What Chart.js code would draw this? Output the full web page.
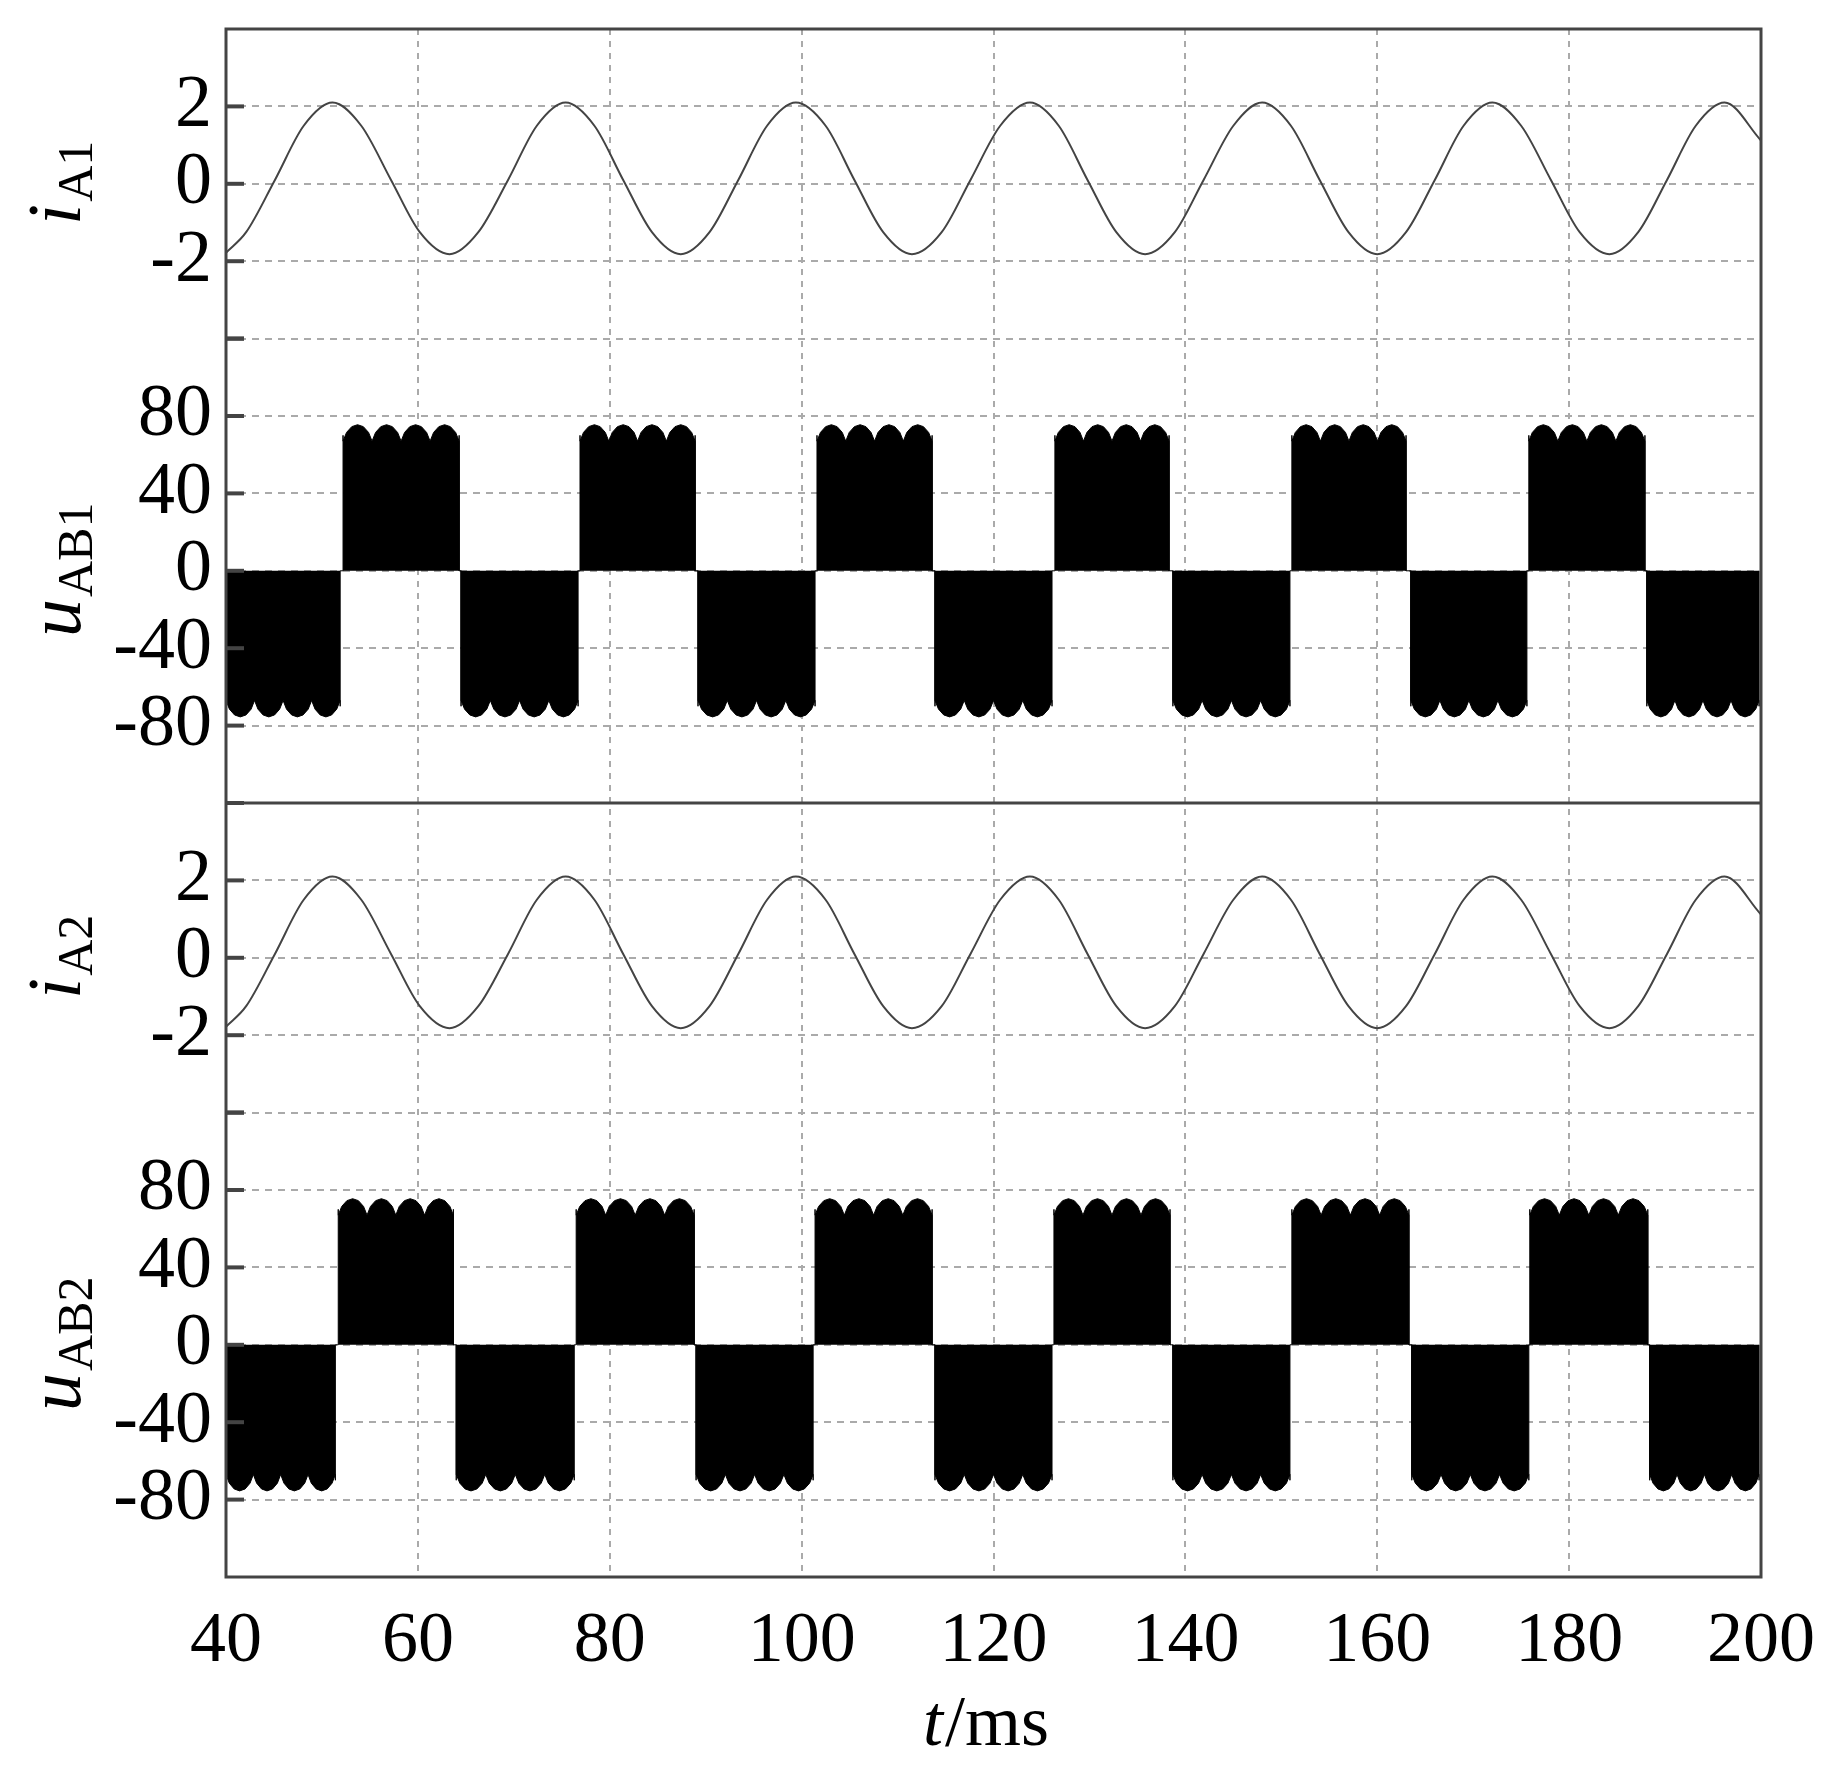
<!DOCTYPE html>
<html>
<head>
<meta charset="utf-8">
<script src="https://cdn.jsdelivr.net/npm/chart.js@4/dist/chart.umd.min.js"></script>
<style>
  html, body { margin: 0; padding: 0; background: #fff; }
  #wrap { width: 1837px; height: 1771px; }
</style>
</head>
<body>
<div id="wrap"><canvas id="chart" width="1837" height="1771"></canvas></div>
<script>
// current iA1 / iA2 (t in ms, value in A)
const iA1_t = [40, 42.1, 45.1, 48.1, 51.1, 54.1, 57.2, 60.2, 63.3, 66.3, 69.4, 72.4, 75.4, 78.4, 81.4, 84.4, 87.4, 90.4, 93.4, 96.4, 99.4, 102.5, 105.5, 108.5, 111.5, 114.6, 117.6, 120.7, 123.8, 126.8, 129.8, 132.8, 135.8, 138.9, 141.9, 145.0, 148.0, 151.0, 154.0, 157.0, 160.0, 163.0, 166.0, 169.0, 172.0, 175.0, 178.1, 181.1, 184.2, 187.2, 190.2, 193.2, 196.2, 200];
const iA1_v = [-1.78, -1.25, 0.1, 1.5, 2.1, 1.5, 0.1, -1.25, -1.82, -1.25, 0.1, 1.5, 2.1, 1.5, 0.1, -1.25, -1.82, -1.25, 0.1, 1.5, 2.1, 1.5, 0.1, -1.25, -1.82, -1.25, 0.1, 1.5, 2.1, 1.5, 0.1, -1.25, -1.82, -1.25, 0.1, 1.5, 2.1, 1.5, 0.1, -1.25, -1.82, -1.25, 0.1, 1.5, 2.1, 1.5, 0.1, -1.25, -1.82, -1.25, 0.1, 1.5, 2.1, 1.12];
const iA2_t = [40, 42.1, 45.1, 48.1, 51.1, 54.1, 57.2, 60.2, 63.3, 66.3, 69.4, 72.4, 75.4, 78.4, 81.4, 84.4, 87.4, 90.4, 93.4, 96.4, 99.4, 102.5, 105.5, 108.5, 111.5, 114.6, 117.6, 120.7, 123.8, 126.8, 129.8, 132.8, 135.8, 138.9, 141.9, 145.0, 148.0, 151.0, 154.0, 157.0, 160.0, 163.0, 166.0, 169.0, 172.0, 175.0, 178.1, 181.1, 184.2, 187.2, 190.2, 193.2, 196.2, 200];
const iA2_v = [-1.78, -1.25, 0.1, 1.5, 2.1, 1.5, 0.1, -1.25, -1.82, -1.25, 0.1, 1.5, 2.1, 1.5, 0.1, -1.25, -1.82, -1.25, 0.1, 1.5, 2.1, 1.5, 0.1, -1.25, -1.82, -1.25, 0.1, 1.5, 2.1, 1.5, 0.1, -1.25, -1.82, -1.25, 0.1, 1.5, 2.1, 1.5, 0.1, -1.25, -1.82, -1.25, 0.1, 1.5, 2.1, 1.5, 0.1, -1.25, -1.82, -1.25, 0.1, 1.5, 2.1, 1.12];

// voltage blocks [start, end] in ms
const uAB1_pos = [[52.2, 64.3], [76.9, 88.9], [101.6, 113.6], [126.4, 138.3], [151.1, 163.0], [175.8, 187.9]];
const uAB1_neg = [[40.0, 51.9], [64.5, 76.7], [89.2, 101.4], [113.9, 126.1], [138.7, 150.9], [163.5, 175.6], [188.1, 199.8]];
const uAB2_pos = [[51.7, 63.7], [76.5, 88.8], [101.4, 113.6], [126.3, 138.4], [151.1, 163.3], [175.9, 188.2]];
const uAB2_neg = [[40.0, 51.4], [64.0, 76.3], [89.0, 101.2], [113.9, 126.1], [138.7, 150.9], [163.6, 175.8], [188.4, 199.8]];

// ripple on top of each block (4 humps per block)
const humpsPerBlock = 4;
const humpPos = [0, 0.12, 0.3, 0.5, 0.7, 0.88, 1];
const humpVal = [67, 71.5, 74.5, 75.5, 74.5, 71.5, 67];
const edgeVal = 70;

const xTicks = [40, 60, 80, 100, 120, 140, 160, 180, 200];
const iTicks = [2, 0, -2];
const uTicks = [80, 40, 0, -40, -80];

function toPoints(ts, vs) {
  return ts.map((t, i) => ({ x: t, y: vs[i] }));
}

function buildWave(pos, neg) {
  const blocks = pos.map((b) => [b[0], b[1], 1]).concat(neg.map((b) => [b[0], b[1], -1]));
  blocks.sort((a, b) => a[0] - b[0]);
  const pts = [];
  blocks.forEach(([a, b, s]) => {
    pts.push({ x: a, y: 0 });
    pts.push({ x: a, y: s * edgeVal });
    for (let h = 0; h < humpsPerBlock; h++) {
      humpPos.forEach((f, k) => {
        pts.push({ x: a + (b - a) * (h + f) / humpsPerBlock, y: s * humpVal[k] });
      });
    }
    pts.push({ x: b, y: s * edgeVal });
    pts.push({ x: b, y: 0 });
  });
  return pts;
}

const SERIF = "'Liberation Serif', 'DejaVu Serif', serif";
const gridStyle = { color: "#aaa", lineWidth: 2, drawTicks: false };

function yAxis(min, max, step, labels, weight) {
  return {
    type: "linear",
    position: "left",
    stack: "all",
    stackWeight: weight,
    min, max,
    grid: gridStyle,
    border: { display: false, dash: [7, 6] },
    ticks: {
      stepSize: step,
      autoSkip: false,
      color: "#000",
      font: { family: SERIF, size: 74 },
      padding: 14,
      callback: (v) => (labels.includes(v) ? String(v) : ""),
    },
    afterFit: (s) => { s.width = 226; s.paddingTop = 0; s.paddingBottom = 0; },
  };
}

const framePlugin = {
  id: "frame",
  afterDraw(chart) {
    const { ctx, chartArea: a, scales } = chart;
    ctx.save();
    ctx.strokeStyle = "#444";
    ctx.lineWidth = 3;
    ctx.strokeRect(a.left, a.top, a.right - a.left, a.bottom - a.top);
    const ySep = scales.u1.bottom;
    ctx.beginPath();
    ctx.moveTo(a.left, ySep);
    ctx.lineTo(a.right, ySep);
    ctx.stroke();
    // inner tick marks
    ctx.lineWidth = 4;
    ["i1", "u1", "i2", "u2"].forEach((id) => {
      scales[id].ticks.forEach((t) => {
        const y = scales[id].getPixelForValue(t.value);
        if (y <= a.top + 2 || y >= a.bottom - 2) return;
        ctx.beginPath();
        ctx.moveTo(a.left, y);
        ctx.lineTo(a.left + 18, y);
        ctx.stroke();
      });
    });
    // axis titles
    ctx.fillStyle = "#000";
    const titles = [["i1", "i", "A1"], ["u1", "u", "AB1"], ["i2", "i", "A2"], ["u2", "u", "AB2"]];
    titles.forEach(([id, main, sub]) => {
      const s = scales[id];
      const cy = (s.top + s.bottom) / 2;
      ctx.save();
      ctx.translate(80, cy);
      ctx.rotate(-Math.PI / 2);
      ctx.font = "italic 76px " + SERIF;
      const w1 = ctx.measureText(main).width;
      ctx.font = "50px " + SERIF;
      const w2 = ctx.measureText(sub).width;
      const x0 = -(w1 + w2) / 2;
      ctx.textBaseline = "alphabetic";
      ctx.font = "italic 76px " + SERIF;
      ctx.fillText(main, x0, 0);
      ctx.font = "50px " + SERIF;
      ctx.fillText(sub, x0 + w1 + 2, 12);
      ctx.restore();
    });
    // x title
    ctx.font = "italic 72px " + SERIF;
    const wt = ctx.measureText("t").width;
    ctx.font = "72px " + SERIF;
    const wr = ctx.measureText("/ms").width;
    const cx = 985 - (wt + wr) / 2;
    ctx.textBaseline = "middle";
    ctx.font = "italic 72px " + SERIF;
    ctx.fillText("t", cx, 1726);
    ctx.font = "72px " + SERIF;
    ctx.fillText("/ms", cx + wt + 2, 1726);
    ctx.restore();
  },
};

const lineDs = (data, axis) => ({
  data, yAxisID: axis, borderColor: "#444", borderWidth: 2,
  pointRadius: 0, cubicInterpolationMode: "monotone", fill: false,
});
const waveDs = (data, axis) => ({
  data, yAxisID: axis, borderColor: "#000", borderWidth: 1,
  backgroundColor: "#000", pointRadius: 0, tension: 0, fill: "origin",
});

new Chart(document.getElementById("chart"), {
  type: "line",
  data: {
    datasets: [
      lineDs(toPoints(iA1_t, iA1_v), "i1"),
      waveDs(buildWave(uAB1_pos, uAB1_neg), "u1"),
      lineDs(toPoints(iA2_t, iA2_v), "i2"),
      waveDs(buildWave(uAB2_pos, uAB2_neg), "u2"),
    ],
  },
  options: {
    responsive: false,
    animation: false,
    layout: { padding: { top: 29, right: 63, left: 0, bottom: 0 } },
    plugins: { legend: { display: false }, tooltip: { enabled: false } },
    scales: {
      x: {
        type: "linear",
        min: 40, max: 200,
        grid: { color: "#aaa", lineWidth: 2, drawTicks: false },
        border: { display: false, dash: [6, 6] },
        afterBuildTicks: (s) => { s.ticks = xTicks.map((v) => ({ value: v })); },
        ticks: { color: "#000", font: { family: SERIF, size: 72 }, padding: 22, maxRotation: 0, autoSkip: false },
        afterFit: (s) => { s.height = 194; },
      },
      // stacked axes are laid out bottom-up
      u2: yAxis(-120, 120, 40, uTicks, 6),
      i2: yAxis(-4, 4, 2, iTicks, 4),
      u1: yAxis(-120, 120, 40, uTicks, 6),
      i1: yAxis(-4, 4, 2, iTicks, 4),
    },
  },
  plugins: [framePlugin],
});
</script>
</body>
</html>
